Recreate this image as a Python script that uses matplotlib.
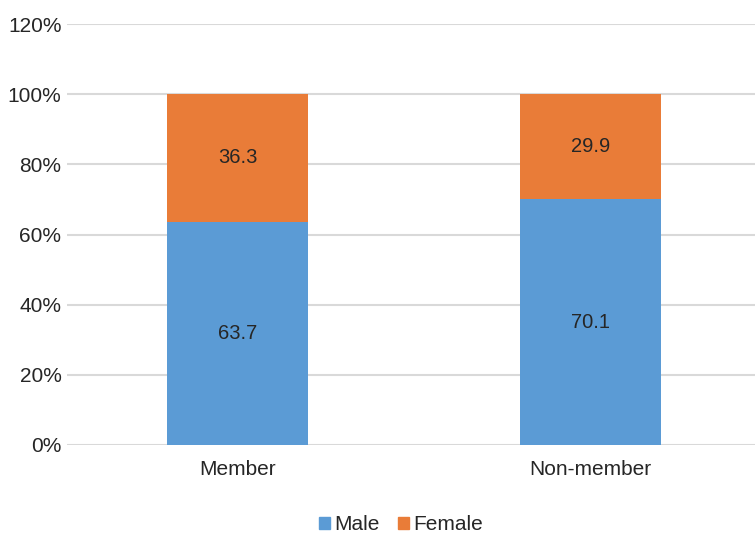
import matplotlib
matplotlib.use('Agg')
import matplotlib.pyplot as plt
from matplotlib.ticker import FuncFormatter
import numpy as np

categories = ['Member', 'Non-member']
male = [63.7, 70.1]
female = [36.3, 29.9]
yticks = [0, 20, 40, 60, 80, 100, 120]

plt.rcParams['font.family'] = ['Liberation Sans', 'DejaVu Sans']

fig = plt.figure(figsize=(7.55, 5.36), dpi=100)
ax = fig.add_axes([67/755, 1-445/536, (755-67)/755, (445-24)/536])

x = np.arange(len(categories))
blue = '#5B9BD5'
orange = '#E97C38'
txt = '#262626'
ax.bar(x, male, width=0.4, color=blue, zorder=3)
ax.bar(x, female, width=0.4, bottom=male, color=orange, zorder=3)

# value labels in the middle of each segment
for i in range(len(categories)):
   ax.text(x[i], male[i]/2, '%.1f' % male[i], ha='center', va='center',
           fontsize=14.5, color=txt, zorder=4)
   ax.text(x[i], male[i] + female[i]/2, '%.1f' % female[i], ha='center', va='center',
           fontsize=14.5, color=txt, zorder=4)

ax.set_ylim(0, 120)
ax.set_xlim(-0.483, 1.466)
ax.set_yticks(yticks)
ax.yaxis.set_major_formatter(FuncFormatter(lambda v, p: '%d%%' % v))
ax.set_xticks(x)
ax.set_xticklabels(categories)
ax.tick_params(axis='both', length=0, labelsize=15, colors=txt)
ax.tick_params(axis='y', pad=4)
ax.tick_params(axis='x', pad=11)
ax.grid(axis='y', color='#D9D9D9', linewidth=1.5, zorder=0)
for s in ax.spines.values():
   s.set_visible(False)

h1 = plt.Rectangle((0, 0), 1, 1, color=blue)
h2 = plt.Rectangle((0, 0), 1, 1, color=orange)
fig.legend([h1, h2], ['Male', 'Female'], loc='center', bbox_to_anchor=(401/755, 1-525/536),
           ncol=2, frameon=False, fontsize=15, handlelength=0.5, handleheight=0.5,
           handletextpad=0.2, columnspacing=0.9, labelcolor=txt)

fig.savefig('out.png', dpi=100)
